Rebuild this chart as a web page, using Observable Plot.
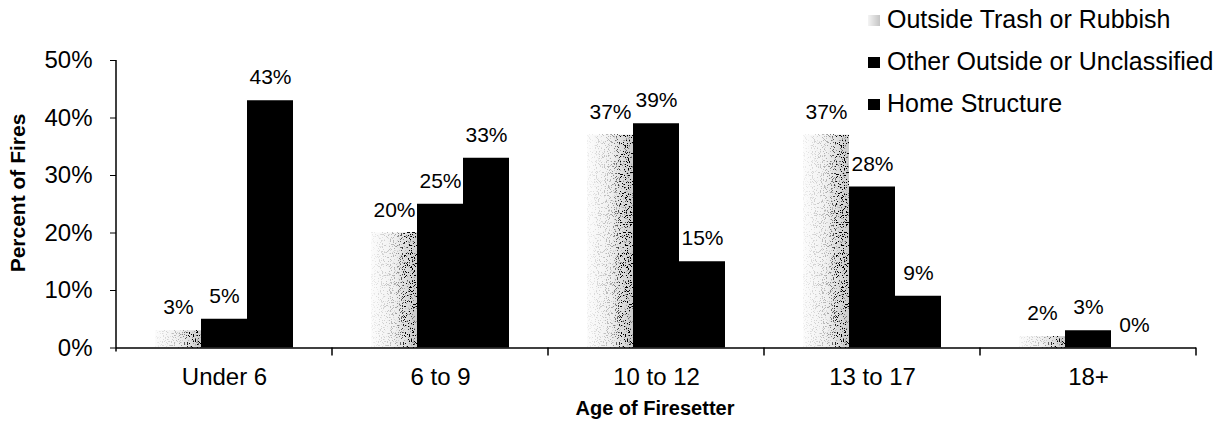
<!DOCTYPE html>
<html>
<head>
<meta charset="utf-8">
<script src="https://cdn.jsdelivr.net/npm/d3@7"></script>
<script src="https://cdn.jsdelivr.net/npm/@observablehq/plot@0.6"></script>
<style>
  body { margin: 0; background: #fff; font-family: "Liberation Sans", Arial, sans-serif; }
  #wrap { position: relative; width: 1223px; height: 425px; overflow: hidden; background: #fff; }
  #wrap svg { position: absolute; left: 0; top: 0; }
  .ylab { position: absolute; left: 18px; top: 193px; transform: translate(-50%, -50%) rotate(-90deg);
          font-weight: bold; font-size: 21px; white-space: nowrap; color: #000; }
  .xlab { position: absolute; left: 655px; top: 408px; transform: translate(-50%, -50%);
          font-weight: bold; font-size: 20px; white-space: nowrap; color: #000; }
  .leg { position: absolute; left: 868px; height: 28px; display: flex; align-items: center;
         font-size: 25px; white-space: nowrap; color: #000; }
  .sw { width: 12px; height: 11px; margin-right: 7px; margin-top: 2px; }
</style>
</head>
<body>
<div id="wrap"></div>
<script>
// ---- data ----
const ages = ["Under 6", "6 to 9", "10 to 12", "13 to 17", "18+"];
const series = ["Outside Trash or Rubbish", "Other Outside or Unclassified", "Home Structure"];
const trash = [3, 20, 37, 37, 2];
const otherOutside = [5, 25, 39, 28, 3];
const home = [43, 33, 15, 9, 0];
const yTicks = [0, 10, 20, 30, 40, 50];
const seriesFill = ["url(#trashFill)", "#000", "#000"];
const legendSwatch = ["linear-gradient(90deg,#f4f4f4,#c4c4c4)", "#000", "#000"];
const legendCenters = [19, 61, 103];

const rows = ages.flatMap((a, i) =>
  [trash[i], otherOutside[i], home[i]].map((v, j) => ({age: a, series: series[j], value: v}))
);

const font = '"Liberation Sans", Arial, sans-serif';

const chart = Plot.plot({
  width: 1223,
  height: 425,
  marginLeft: 115,
  marginRight: 27,
  marginTop: 60,
  marginBottom: 77.5,
  style: {fontFamily: font, color: "#000", background: "transparent", overflow: "visible"},
  fx: {domain: ages, padding: 0, label: null},
  x: {domain: series, paddingInner: 0, paddingOuter: 0.8, axis: null},
  y: {domain: [0, 50], label: null},
  color: {type: "ordinal", domain: series, range: seriesFill},
  marks: [
    Plot.barY(rows, {fx: "age", x: "series", y: "value", fill: "series"}),
    Plot.ruleY([0], {stroke: "#000", strokeWidth: 1.5}),
    Plot.text(rows, {fx: "age", x: "series", y: "value", text: d => d.value + "%",
      dy: -23, lineAnchor: "middle", fontSize: 21, fill: "#000"}),
    Plot.axisY({ticks: yTicks, tickFormat: d => d + "%", tickSize: 6, tickPadding: 18,
      label: null, fontSize: 24}),
    Plot.axisFx({anchor: "bottom", tickSize: 0, tickPadding: 20, label: null, fontSize: 24})
  ]
});

const wrap = document.getElementById("wrap");
wrap.appendChild(chart);

// gradient + stipple for the trash bars
const svg = d3.select(chart);
const defs = svg.insert("defs", ":first-child");
const g = defs.append("linearGradient").attr("id", "trashFill")
  .attr("x1", "0").attr("x2", "1").attr("y1", "0").attr("y2", "0");
g.append("stop").attr("offset", "0").attr("stop-color", "#fcfcfc");
g.append("stop").attr("offset", "0.5").attr("stop-color", "#f1f1f1");
g.append("stop").attr("offset", "1").attr("stop-color", "#cbcbcb");
const f = defs.append("filter").attr("id", "speck")
  .attr("x", "0").attr("y", "0").attr("width", "1").attr("height", "1");
f.append("feTurbulence").attr("type", "fractalNoise").attr("baseFrequency", "0.9")
  .attr("numOctaves", "2").attr("seed", "4").attr("result", "n");
f.append("feColorMatrix").attr("in", "n").attr("type", "matrix")
  .attr("values", "0 0 0 0 0  0 0 0 0 0  0 0 0 0 0  14 0 0 0 -8.0").attr("result", "dots");
f.append("feColorMatrix").attr("in", "SourceGraphic").attr("type", "matrix")
  .attr("values", "0 0 0 0 0  0 0 0 0 0  0 0 0 0 0  -4 0 0 0 4").attr("result", "dark");
f.append("feComposite").attr("in", "dots").attr("in2", "dark").attr("operator", "in").attr("result", "d2");
const m = f.append("feMerge");
m.append("feMergeNode").attr("in", "SourceGraphic");
m.append("feMergeNode").attr("in", "d2");
svg.selectAll('rect[fill="url(#trashFill)"]').attr("filter", "url(#speck)");

// y axis line and category boundary ticks, positioned with Plot's scales
const fx = chart.scale("fx");
const y = chart.scale("y");
const y0 = y.apply(0), yTop = y.apply(50);
const x0 = fx.apply(ages[0]);
const extra = svg.append("g").attr("stroke", "#000").attr("stroke-width", 1.5);
extra.append("line").attr("x1", x0).attr("x2", x0).attr("y1", yTop).attr("y2", y0 + 4);
ages.forEach(a => {
  const xr = fx.apply(a) + fx.bandwidth;
  extra.append("line").attr("x1", xr).attr("x2", xr).attr("y1", y0).attr("y2", y0 + 8);
});

// axis titles
const yl = document.createElement("div");
yl.className = "ylab"; yl.textContent = "Percent of Fires"; wrap.appendChild(yl);
const xl = document.createElement("div");
xl.className = "xlab"; xl.textContent = "Age of Firesetter"; wrap.appendChild(xl);

// legend
series.forEach((s, i) => {
  const row = document.createElement("div");
  row.className = "leg";
  row.style.top = (legendCenters[i] - 14) + "px";
  const sw = document.createElement("div");
  sw.className = "sw";
  sw.style.background = legendSwatch[i];
  const t = document.createElement("span");
  t.textContent = s;
  row.appendChild(sw); row.appendChild(t);
  wrap.appendChild(row);
});
</script>
</body>
</html>
